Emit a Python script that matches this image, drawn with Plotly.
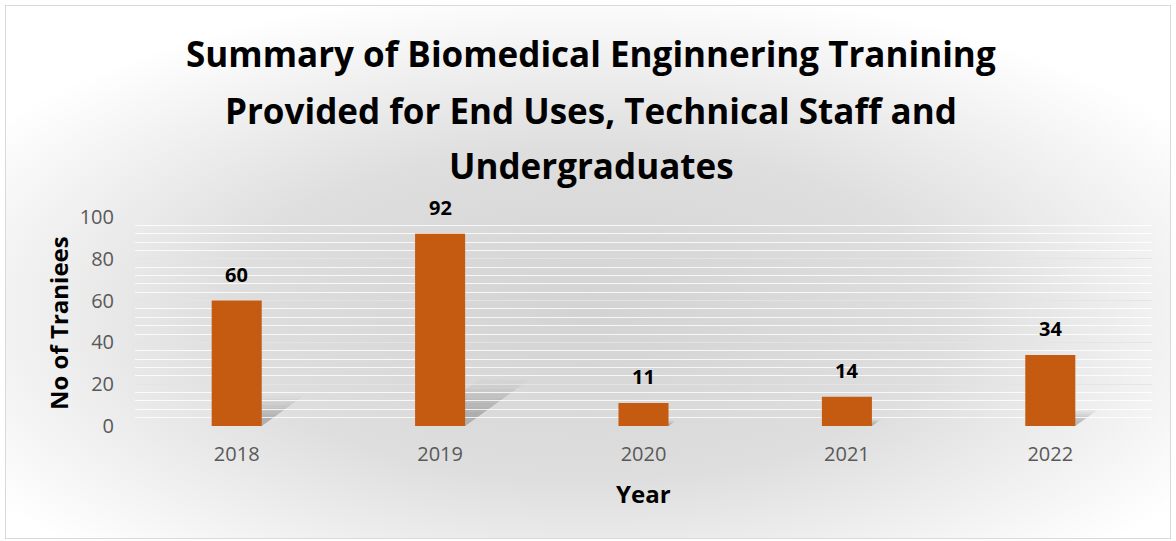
import plotly.graph_objects as go
import base64

years = ["2018", "2019", "2020", "2021", "2022"]
trainees = [60, 92, 11, 14, 34]
y_ticks = [0, 20, 40, 60, 80, 100]
title_lines = ["Summary of Biomedical Enginnering Tranining",
               "Provided for End Uses, Technical Staff and",
               "Undergraduates"]
x_title = "Year"
y_title = "No of Traniees"

W, H = 1176, 541
L, R, T, B = 135, 24, 217, 115
pw, ph = W - L - R, H - T - B

bar_color = "#C55A11"
font_main = "Open Sans"


def px_to_paper_y(ypx):
    return 1 + (T - ypx) / ph


def px_to_paper_x(xpx):
    return (xpx - L) / pw


svg = f'''<svg xmlns="http://www.w3.org/2000/svg" width="{W}" height="{H}" viewBox="0 0 {W} {H}">
<defs><radialGradient id="g" cx="0.5" cy="0.58" r="0.62" gradientUnits="objectBoundingBox">
<stop offset="0" stop-color="#d3d3d3"/><stop offset="0.5" stop-color="#dedede"/><stop offset="1" stop-color="#ffffff"/></radialGradient></defs>
<rect x="0" y="0" width="{W}" height="{H}" fill="#ffffff"/>
<rect x="5.5" y="5.5" width="{W-11}" height="{H-8}" fill="url(#g)" stroke="#d9d9d9" stroke-width="1"/>
</svg>'''
bg_uri = "data:image/svg+xml;base64," + base64.b64encode(svg.encode()).decode()

x_idx = list(range(len(years)))
bar_w = 0.246

fig = go.Figure()
fig.add_trace(go.Bar(
    x=x_idx, y=trainees, width=bar_w,
    marker=dict(color=bar_color, line=dict(width=0)),
    hoverinfo="x+y",
))

# soft shadows cast by bars (derived from the data values)
shapes = []
layers = [(1.0, 0.03), (0.9, 0.04), (0.8, 0.045), (0.7, 0.05), (0.6, 0.05), (0.5, 0.05), (0.4, 0.045), (0.3, 0.04)]
for i, v in zip(x_idx, trainees):
    x0, x1 = i - bar_w / 2, i + bar_w / 2
    for s, op in layers:
        dx = 0.0034 * v * s
        dy = 0.24 * v * s
        path = f"M {x0},0 L {x1},0 L {x1+dx},{dy} L {x0+dx},{dy} Z"
        shapes.append(dict(type="path", path=path, xref="x", yref="y",
                           fillcolor=f"rgba(80,80,80,{op})", line=dict(width=0),
                           layer="below"))

annotations = []
# data labels
for i, v in zip(x_idx, trainees):
    annotations.append(dict(text=f"<b>{v}</b>", xref="x", yref="y", x=i, y=v,
                            xanchor="center", yanchor="bottom", yshift=11, showarrow=False,
                            font=dict(family=font_main, size=20, color="#000000")))
for line, ypx in zip(title_lines, [53.5, 110.5, 165]):
    annotations.append(dict(text=f"<b>{line}</b>", xref="paper", yref="paper",
                            x=px_to_paper_x(591), y=px_to_paper_y(ypx),
                            xanchor="center", yanchor="middle", showarrow=False,
                            font=dict(family=font_main, size=35, color="#000000")))
annotations.append(dict(text=f"<b>{x_title}</b>", xref="paper", yref="paper",
                        x=px_to_paper_x(643), y=px_to_paper_y(493),
                        xanchor="center", yanchor="middle", showarrow=False,
                        font=dict(family=font_main, size=24, color="#000000")))
annotations.append(dict(text=f"<b>{y_title}</b>", xref="paper", yref="paper",
                        x=px_to_paper_x(58), y=px_to_paper_y(323), textangle=-90,
                        xanchor="center", yanchor="middle", showarrow=False,
                        font=dict(family=font_main, size=24, color="#000000")))

fig.update_layout(
    width=W, height=H,
    margin=dict(l=L, r=R, t=T, b=B, pad=0),
    paper_bgcolor="rgba(0,0,0,0)", plot_bgcolor="rgba(0,0,0,0)",
    showlegend=False,
    shapes=shapes,
    annotations=annotations,
    images=[dict(source=bg_uri, xref="paper", yref="paper",
                 x=-L / pw, y=1 + T / ph, sizex=W / pw, sizey=H / ph,
                 xanchor="left", yanchor="top", sizing="stretch", layer="below")],
    xaxis=dict(range=[-0.5, len(years) - 0.5], tickvals=x_idx, ticktext=years,
               showgrid=False, zeroline=False, showline=False, ticks="",
               ticklabelstandoff=14,
               tickfont=dict(family=font_main, size=20, color="#595959")),
    yaxis=dict(range=[0, 100], tickvals=y_ticks, showgrid=True, gridcolor="rgba(214,214,214,0.6)", gridwidth=1,
               minor=dict(dtick=4, showgrid=True, gridcolor="rgba(255,255,255,0.8)", gridwidth=1),
               zeroline=False, showline=False, ticks="",
               ticklabelstandoff=20,
               tickfont=dict(family=font_main, size=20, color="#595959")),
)

fig.write_html("out.html", config={"displayModeBar": False},
               post_script="document.body.style.margin='0px';")
